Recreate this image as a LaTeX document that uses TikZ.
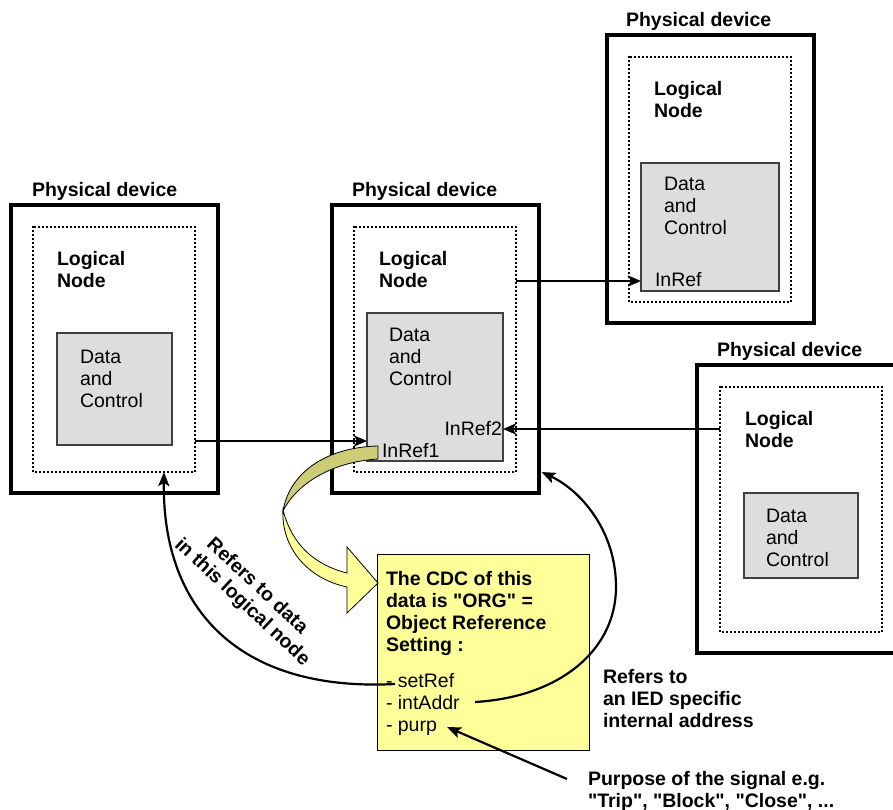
\documentclass[tikz,border=0pt]{standalone}
\usepackage{fontspec}
\setmainfont{Liberation Sans}[Ligatures=TeXOff]
\usetikzlibrary{arrows.meta,decorations.markings}
\definecolor{dcgray}{HTML}{DDDDDD}
\definecolor{noteyellow}{HTML}{FFFF99}
\definecolor{ribbonolive}{RGB}{204,204,119}
\newcommand{\mlines}[1]{\begin{tabular}[t]{@{}l@{}}#1\end{tabular}}
\begin{document}
\begin{tikzpicture}[x=1pt,y=-1pt,
  every node/.style={inner sep=0pt, outer sep=0pt},
  txt/.style={font=\fontsize{19.5}{22}\selectfont},
  btxt/.style={font=\fontsize{19.5}{22}\selectfont\bfseries},
  frame/.style={draw, line width=4pt, minimum width=207pt, minimum height=288pt},
  lnode/.style={minimum width=162pt, minimum height=245pt},
  dotline/.style={postaction={decorate, decoration={markings,
      mark=between positions 0 and 1 step 4pt with {\fill[black] (-1.4pt,-1.4pt) rectangle (1.4pt,1.4pt);}}}},
  dcbox/.style={draw=black!75, line width=1.2pt, fill=dcgray},
  arr/.style={line width=2.8pt, -{Stealth[length=13pt,width=11pt,inset=3pt]}},
  carr/.style={line width=2.2pt, -{Stealth[length=14pt,width=11pt,inset=3pt]}},
]
\useasboundingbox (0,0) rectangle (893,809);
\clip (0,0) rectangle (893,809);

% device 1
\node[frame] (pd1) at (114,349) {};
\node[lnode] (ln1) at (114,349.5) {};
\path[dotline] (ln1.north west) rectangle (ln1.south east);
\node[dcbox, minimum width=115pt, minimum height=112pt] (dc1) at (114.5,389) {};
\node[btxt, anchor=base west] (pdl1) at (32,196) {Physical device};
\node[btxt, anchor=base west] (lnl1) at (57,265) {\mlines{Logical\\Node}};
\node[txt, anchor=base west] (dcl1) at (80,363) {\mlines{Data\\and\\Control}};

% device 2
\node[frame] (pd2) at (435,349) {};
\node[lnode] (ln2) at (435,349.5) {};
\path[dotline] (ln2.north west) rectangle (ln2.south east);
\node[dcbox, minimum width=136pt, minimum height=148pt] (dc2) at (435,387) {};
\node[btxt, anchor=base west] (pdl2) at (352,196) {Physical device};
\node[btxt, anchor=base west] (lnl2) at (379,265) {\mlines{Logical\\Node}};
\node[txt, anchor=base west] (dcl2) at (389,341) {\mlines{Data\\and\\Control}};
\node[txt, anchor=base east] (inref2) at (502,435) {InRef2};
\node[txt, anchor=base west] (inref1) at (382,457) {InRef1};

% device 3
\node[frame] (pd3) at (710,179) {};
\node[lnode] (ln3) at (710,179.5) {};
\path[dotline] (ln3.north west) rectangle (ln3.south east);
\node[dcbox, minimum width=138pt, minimum height=128pt] (dc3) at (710,227) {};
\node[btxt, anchor=base west] (pdl3) at (626,26) {Physical device};
\node[btxt, anchor=base west] (lnl3) at (654,95) {\mlines{Logical\\Node}};
\node[txt, anchor=base west] (dcl3) at (664,190) {\mlines{Data\\and\\Control}};
\node[txt, anchor=base west] (inref3) at (655,286) {InRef};

% device 4
\node[frame] (pd4) at (800,509) {};
\node[lnode] (ln4) at (801,509.5) {};
\path[dotline] (ln4.north west) rectangle (ln4.south east);
\node[dcbox, minimum width=114pt, minimum height=85pt] (dc4) at (801,535.5) {};
\node[btxt, anchor=base west] (pdl4) at (717,356) {Physical device};
\node[btxt, anchor=base west] (lnl4) at (745,425) {\mlines{Logical\\Node}};
\node[txt, anchor=base west] (dcl4) at (766,522) {\mlines{Data\\and\\Control}};

% straight connectors
\draw[arr] ([yshift=-91.5pt]ln1.east) -- ([yshift=-54pt]dc2.west);
\draw[arr] ([yshift=68.5pt]ln2.east) -- ([yshift=-54pt]dc3.west);
\draw[arr] ([yshift=80.5pt]ln4.west) -- ([yshift=-42pt]dc2.east);

% yellow note
\node[draw, line width=1pt, fill=noteyellow, minimum width=212pt, minimum height=196pt] (org) at (483,652) {};
\node[btxt, anchor=base west] (orgtitle) at (386,585) {\mlines{The CDC of this\\data is "ORG" =\\Object Reference\\Setting :}};
\node[txt, anchor=base west] (orgattr) at (386,687) {\mlines{- setRef\\- intAddr\\- purp}};

% ribbon arrow from InRef1 to the note
\draw[line width=0.8pt, fill=ribbonolive] (378,446) .. controls (330,447) and (290,470) .. (283,511) .. controls (296,485) and (330,462) .. (378,459) -- cycle;
\draw[line width=0.8pt, fill=noteyellow] (283,510) .. controls (281,545) and (305,578) .. (347,587) -- (347,613) -- (378,583) -- (347,547) -- (347,573) .. controls (315,565) and (292,545) .. (283,510) -- cycle;

% curved connectors
\coordinate (setrefEnd) at (395,684);
\coordinate (intaddrEnd) at (475,702);
\coordinate (purpTip) at (447,727);
\coordinate (purpFrom) at (567,779);
\draw[carr] (setrefEnd) .. controls (240,692) and (162,610) .. ([xshift=50pt]ln1.south);
\draw[carr] (intaddrEnd) .. controls (560,697) and (616,650) .. (616,587) .. controls (616,530) and (580,490) .. ([shift={(3pt,-123pt)}]pd2.east);
\draw[carr] (purpFrom) -- (purpTip);

% annotations
\node[btxt, rotate=-43] (lnref) at (249,595) {\begin{tabular}{@{}c@{}}Refers to data\\in this logical node\end{tabular}};
\node[btxt, anchor=base west] (iedref) at (603,683) {\mlines{Refers to\\an IED specific\\internal address}};
\node[btxt, anchor=base west] (purpose) at (588,785) {\mlines{Purpose of the signal e.g.\\"Trip", "Block", "Close", ...}};
\end{tikzpicture}
\end{document}
